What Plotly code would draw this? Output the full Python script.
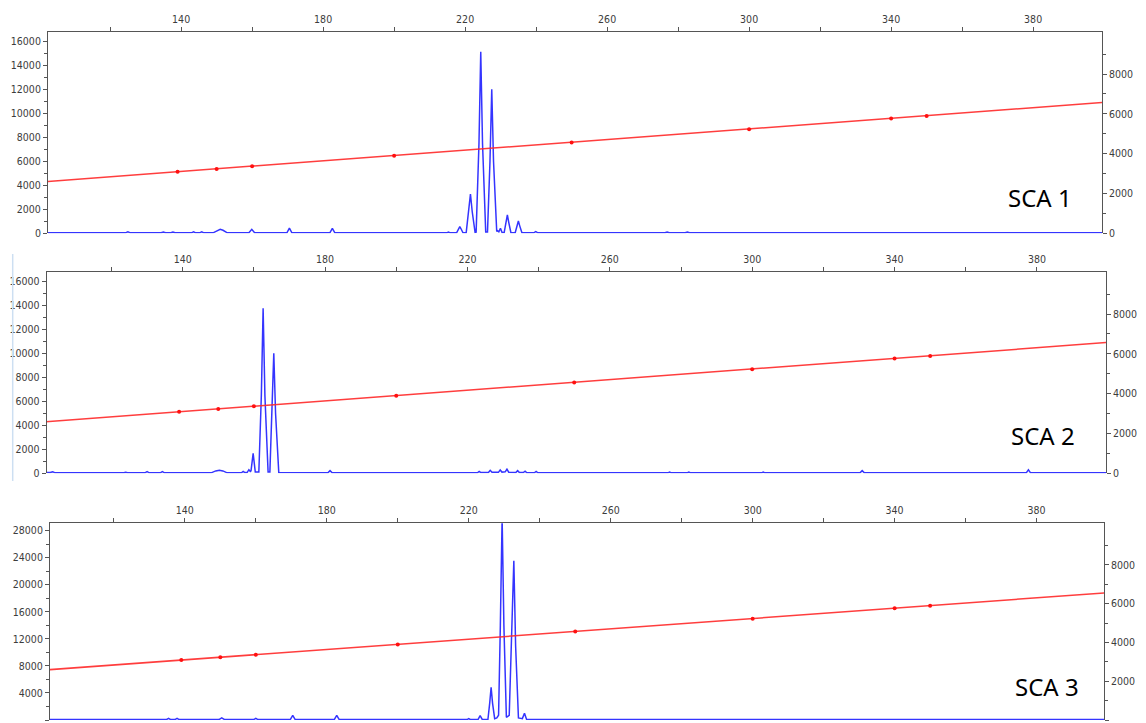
import plotly.graph_objects as go

# ---------------- data ----------------
# Size-standard ladder (bp) and their scan positions (right axis)
ladder_size = [139, 150, 160, 200, 250, 300, 340, 350]
ladder_scan = [3090, 3235, 3370, 3900, 4565, 5230, 5765, 5895]
# sizing calibration line end points
fit_size = [100, 400]
fit_scan = [2573, 6573]

# tick labels
x_labels = [140, 180, 220, 260, 300, 340, 380]
x_minor = [120, 160, 200, 240, 280, 320, 360]
right_labels = [0, 2000, 4000, 6000, 8000]
right_minor = [1000, 3000, 5000, 7000, 9000]

# SCA 1 electropherogram (size bp, RFU)
sca1_size = [102.5, 124.3, 125, 125.7, 134.4, 135, 135.6, 137.1, 137.7, 138.3,
             142.9, 143.5, 144.1, 145.2, 145.8, 146.4, 149, 150.2, 151, 151.8, 153,
             159.1, 159.9, 160.7, 163.5, 164, 164.5, 166, 166.5, 167,
             169.8, 170.5, 171.2, 181.9, 182.6, 183.3, 211.9, 212.4, 212.9,
             214.8, 215.3, 215.8, 217.6, 218.2, 218.5, 218.8, 219.4,
             220.3, 221.0, 221.5, 222.0, 222.8,
             223.1, 223.9, 224.4, 224.9, 225.8,
             226.3, 227.0, 227.5, 228.0, 228.9,
             229.1, 229.5, 229.95, 230.4,
             231.0, 231.5, 231.9, 232.3, 232.9,
             234.1, 234.6, 235.0, 235.4, 236.0,
             239.3, 239.9, 240.5, 276.3, 276.9, 277.5, 282.0, 282.6, 283.2, 399.5]
sca1_rfu = [40, 40, 130, 40, 40, 110, 40, 40, 110, 40,
            40, 130, 40, 40, 130, 40, 40, 250, 330, 250, 40,
            40, 330, 40, 40, 90, 40, 40, 90, 40,
            40, 430, 40, 40, 420, 40, 40, 90, 40,
            40, 110, 40, 40, 400, 550, 400, 40,
            50, 1800, 3280, 1800, 80,
            100, 7500, 15170, 7500, 100,
            100, 6000, 12030, 6000, 150,
            220, 120, 420, 60,
            60, 900, 1530, 900, 50,
            50, 600, 1030, 600, 40,
            40, 140, 40, 40, 110, 40, 40, 110, 40, 40]

# SCA 2 electropherogram
sca2_size = [101.8, 102.8, 103.5, 104.2, 123.5, 124, 124.5, 126.1, 126.6, 127.1,
             129.4, 130, 130.6, 133.7, 134.3, 134.9, 148, 149.3, 150.3, 151.3, 152.5,
             156.5, 157, 157.5, 158.1, 158.6, 159.0, 159.2, 159.8, 160.4,
             161.4, 162.1, 162.6, 163.1, 164.0,
             164.5, 165.1, 165.6, 166.1, 167.0,
             180.8, 181.4, 182.0, 222.8, 223.3, 223.8, 225.9, 226.4, 226.9,
             228.7, 229.2, 229.7, 230.6, 231.1, 231.6, 233.6, 234.1, 234.6,
             235.7, 236.2, 236.7, 238.8, 239.3, 239.8, 276.3, 276.8, 277.3,
             281.7, 282.2, 282.7, 302.6, 303.1, 303.6, 330.3, 330.9, 331.5,
             377.0, 377.6, 378.2, 399.4]
sca2_rfu = [60, 60, 130, 40, 40, 90, 40, 40, 90, 40,
            40, 140, 40, 40, 140, 40, 40, 200, 260, 200, 40,
            40, 150, 60, 60, 300, 150, 200, 1670, 100,
            100, 6500, 13780, 6500, 100,
            100, 5000, 10020, 5000, 60,
            40, 220, 40, 40, 150, 60, 60, 250, 80,
            80, 280, 100, 120, 340, 90, 70, 220, 60,
            60, 180, 40, 40, 150, 40, 40, 110, 40,
            40, 110, 40, 40, 110, 40, 40, 220, 40,
            40, 300, 40, 40]

# SCA 3 electropherogram
sca3_size = [102, 134.8, 135.4, 136, 137.2, 137.8, 138.4, 149.6, 150.4, 151.2,
             159.4, 160, 160.6, 169.7, 170.4, 171.1, 182.1, 182.8, 183.5,
             216.4, 216.9, 217.4, 219.5, 220, 220.5, 222.6, 223.2, 223.8,
             225.4, 225.9, 226.3, 226.7, 227.3,
             227.9, 228.4, 228.9, 229.4, 229.9, 230.6,
             231.4, 232.0, 232.7, 233.2, 234.0,
             235.1, 235.7, 236.3, 399]
sca3_rfu = [60, 60, 250, 60, 60, 250, 60, 60, 300, 60,
            60, 250, 60, 60, 700, 60, 60, 700, 60,
            60, 150, 60, 60, 200, 60, 60, 650, 80,
            80, 2500, 4840, 2500, 200,
            300, 700, 14000, 30000, 14000, 400,
            700, 11000, 23560, 11000, 300,
            200, 990, 80, 60]

labels = ["SCA 1", "SCA 2", "SCA 3"]

# ---------------- layout geometry ----------------
W, H = 1146, 723
panels = [
    dict(sx=sca1_size, sy=sca1_rfu, xr=[102.5, 399.4], xpix=[48, 1102], ypix=[32, 233.3],
         yl=[0, 16810], ld=2000, lm=1000, yr=[0, 10110], lab=(1040, 197.7)),
    dict(sx=sca2_size, sy=sca2_rfu, xr=[101.8, 399.4], xpix=[46.7, 1106], ypix=[272, 473.3],
         yl=[0, 16810], ld=2000, lm=1000, yr=[0, 10110], lab=(1042.5, 435)),
    dict(sx=sca3_size, sy=sca3_rfu, xr=[102, 399], xpix=[50, 1104], ypix=[523.3, 720],
         yl=[0, 29100], ld=4000, lm=2000, yr=[0, 10150], lab=(1046.5, 686)),
]

AX = "#555555"
TXT = "#3c3c3c"
TF = dict(family="DejaVu Sans Condensed, Liberation Sans Narrow, Liberation Sans, sans-serif",
          size=10.5, color=TXT)

fig = go.Figure()
layout = dict(width=W, height=H, margin=dict(l=0, r=0, t=0, b=0, autoexpand=False),
              paper_bgcolor="white", plot_bgcolor="white", showlegend=False)

for i, p in enumerate(panels):
    n = i + 1
    xa = "x" if n == 1 else f"x{n}"
    yl = "y" if n == 1 else f"y{n}"
    yr = f"y{n + 3}"
    xdom = [p["xpix"][0] / W, p["xpix"][1] / W]
    ydom = [1 - p["ypix"][1] / H, 1 - p["ypix"][0] / H]

    # sizing line + ladder points (right axis)
    fig.add_trace(go.Scatter(x=fit_size, y=fit_scan, mode="lines", xaxis=xa, yaxis=yr,
                             line=dict(color="rgba(255,40,40,0.9)", width=1.5), hoverinfo="skip"))
    fig.add_trace(go.Scatter(x=ladder_size, y=ladder_scan, mode="markers", xaxis=xa, yaxis=yr,
                             marker=dict(color="#ff1010", size=4), hoverinfo="skip"))
    # electropherogram (left axis)
    fig.add_trace(go.Scatter(x=p["sx"], y=p["sy"], mode="lines", xaxis=xa, yaxis=yl,
                             line=dict(color="#3434ff", width=1.5), hoverinfo="skip"))

    xkey = "xaxis" if n == 1 else f"xaxis{n}"
    ylkey = "yaxis" if n == 1 else f"yaxis{n}"
    yrkey = f"yaxis{n + 3}"
    layout[xkey] = dict(domain=xdom, range=p["xr"], anchor=yl, side="top", automargin=False,
                        showgrid=False, zeroline=False, showline=True, linecolor=AX, linewidth=1,
                        tickmode="array", tickvals=x_labels, ticks="outside", ticklen=4,
                        tickcolor=AX, tickfont=TF,
                        minor=dict(tickmode="array", tickvals=x_minor, ticks="outside",
                                   ticklen=4, tickcolor=AX))
    layout[ylkey] = dict(domain=ydom, range=p["yl"], anchor=xa, side="left", automargin=False,
                         showgrid=False, zeroline=False, showline=True, linecolor=AX, linewidth=1,
                         tickmode="linear", tick0=0, dtick=p["ld"], ticks="outside", ticklen=4,
                         tickformat="d", tickcolor=AX, tickfont=TF,
                         minor=dict(tickmode="linear", tick0=0, dtick=p["lm"], ticks="outside",
                                    ticklen=3, tickcolor=AX))
    layout[yrkey] = dict(range=p["yr"], overlaying=yl, anchor=xa, side="right", automargin=False,
                         showgrid=False, zeroline=False, showline=True, linecolor=AX, linewidth=1,
                         tickmode="array", tickvals=right_labels, ticks="outside", ticklen=4,
                         tickformat="d", tickcolor=AX, tickfont=TF,
                         minor=dict(tickmode="array", tickvals=right_minor, ticks="outside",
                                    ticklen=3, tickcolor=AX))

annotations = []
for p, lab in zip(panels, labels):
    annotations.append(dict(text=lab, xref="paper", yref="paper",
                            x=p["lab"][0] / W, y=1 - p["lab"][1] / H,
                            xanchor="center", yanchor="middle", showarrow=False,
                            font=dict(family="Noto Sans, sans-serif", size=24, color="black")))
layout["annotations"] = annotations
layout["shapes"] = [dict(type="line", xref="paper", yref="paper",
                         x0=12.7 / W, x1=12.7 / W, y0=1 - 481 / H, y1=1 - 254 / H,
                         line=dict(color="#cddff2", width=1.5))]

fig.update_layout(**layout)
fig.write_html("out.html", config={"displayModeBar": False},
               post_script="document.body.style.margin='0';document.body.style.overflow='hidden';")
